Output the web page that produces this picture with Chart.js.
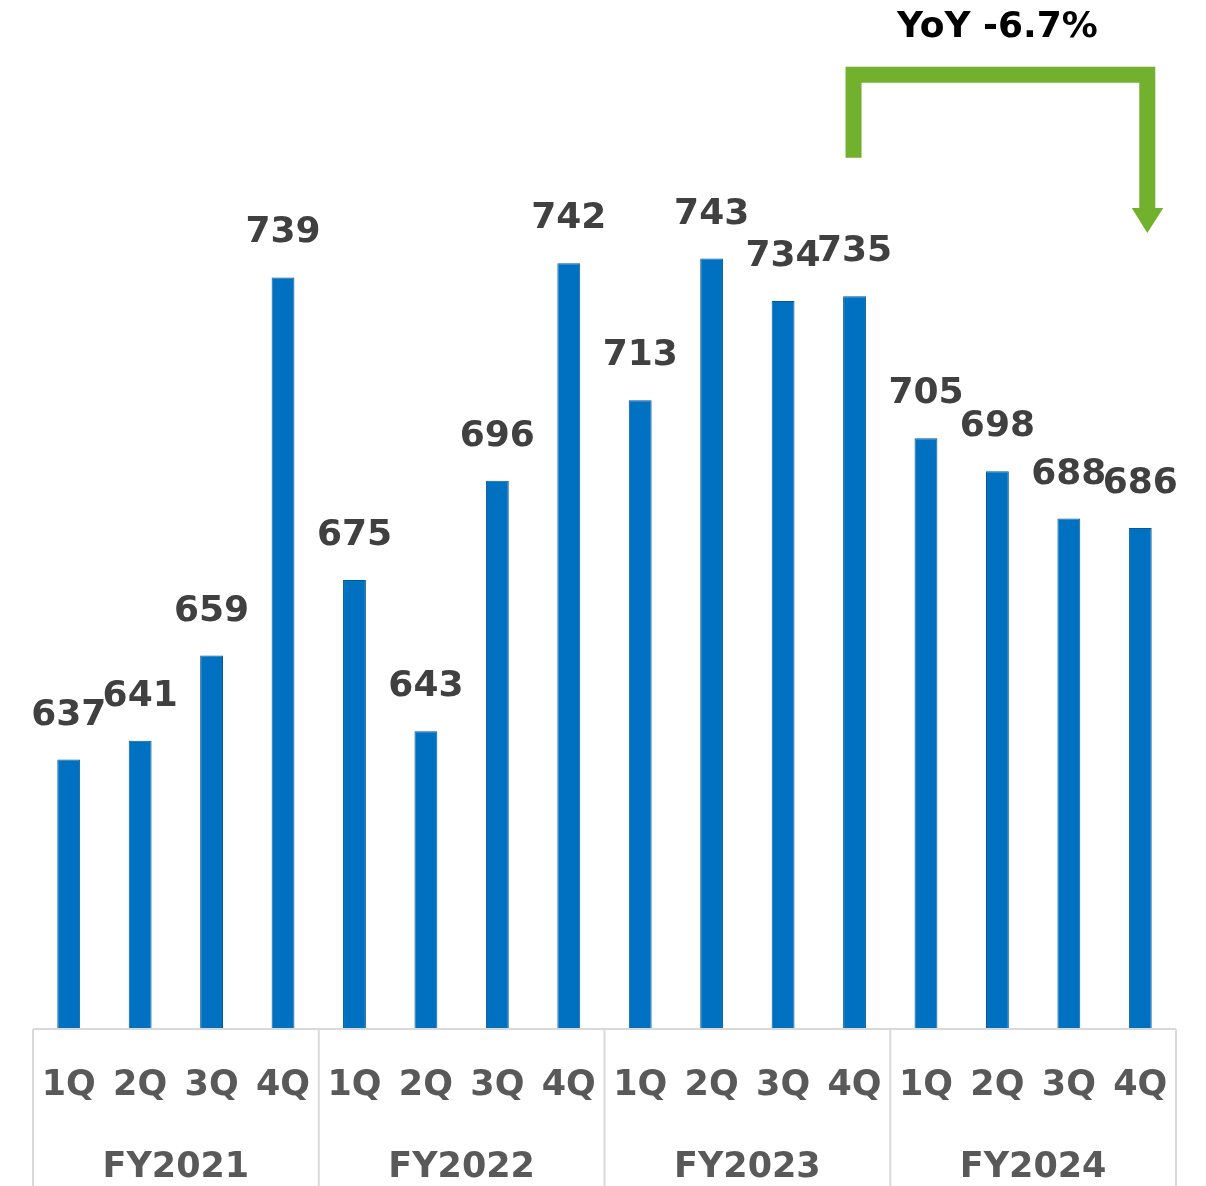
<!DOCTYPE html>
<html>
<head>
<meta charset="utf-8">
<script src="https://cdn.jsdelivr.net/npm/chart.js@4.4.0/dist/chart.umd.min.js"></script>
<style>
  body { margin: 0; background: #fff; }
</style>
</head>
<body>
<canvas id="myChart1" width="1206" height="1186"></canvas>
<script>
const quarters = ['1Q', '2Q', '3Q', '4Q', '1Q', '2Q', '3Q', '4Q', '1Q', '2Q', '3Q', '4Q', '1Q', '2Q', '3Q', '4Q'];
const years = ['FY2021', 'FY2022', 'FY2023', 'FY2024'];
const valores = [637, 641, 659, 739, 675, 643, 696, 742, 713, 743, 734, 735, 705, 698, 688, 686];
const yoyText = 'YoY -6.7%';

const fuente = '"DejaVu Sans", Verdana, sans-serif';
const gris = '#d9d9d9';

// etiquetas, separadores, grupo de años y flecha
const extras = {
  id: 'extras',
  afterDatasetsDraw(chart) {
    const c = chart.ctx;
    const area = chart.chartArea;
    const xs = chart.scales.x;
    const ys = chart.scales.y;
    const barras = chart.getDatasetMeta(0).data;

    // valores sobre las barras
    c.save();
    c.font = 'bold 36px ' + fuente;
    c.fillStyle = '#404040';
    c.textAlign = 'center';
    c.textBaseline = 'alphabetic';
    barras.forEach((b, i) => {
      c.fillText(valores[i], b.x, b.y - 35);
    });
    c.restore();

    // linea base y separadores
    const fondo = chart.height;
    c.save();
    c.strokeStyle = gris;
    c.lineWidth = 2;
    c.beginPath();
    c.moveTo(area.left, area.bottom);
    c.lineTo(area.right, area.bottom);
    const paso = (xs.getPixelForValue(1) - xs.getPixelForValue(0));
    for (let g = 0; g <= years.length; g++) {
      const px = xs.getPixelForValue(g * 4) - paso / 2;
      c.moveTo(px, area.bottom);
      c.lineTo(px, fondo);
    }
    c.stroke();

    // años
    c.font = 'bold 35px ' + fuente;
    c.fillStyle = '#595959';
    c.textAlign = 'center';
    years.forEach((yr, g) => {
      const cx = (xs.getPixelForValue(g * 4) + xs.getPixelForValue(g * 4 + 3)) / 2;
      c.fillText(yr, cx, area.bottom + 148);
    });
    c.restore();

    // flecha YoY
    const xL = barras[11].x - 1;
    const xR = barras[15].x + 7;
    const yBase = ys.getPixelForValue(764.3);
    const yArriba = ys.getPixelForValue(781.9);
    const yCabeza = ys.getPixelForValue(753.7);
    const yPunta = ys.getPixelForValue(748.4);
    c.save();
    c.strokeStyle = '#71b12e';
    c.fillStyle = '#71b12e';
    c.lineWidth = 16;
    c.lineJoin = 'miter';
    c.beginPath();
    c.moveTo(xL, yBase);
    c.lineTo(xL, yArriba);
    c.lineTo(xR, yArriba);
    c.lineTo(xR, yCabeza + 1);
    c.stroke();
    c.beginPath();
    c.moveTo(xR - 15.5, yCabeza);
    c.lineTo(xR + 16, yCabeza);
    c.lineTo(xR, yPunta);
    c.closePath();
    c.fill();

    c.font = 'bold 36px ' + fuente;
    c.fillStyle = '#000000';
    c.textAlign = 'center';
    c.fillText(yoyText, (xL + xR) / 2 - 3, 37);
    c.restore();
  }
};

const ctx = document.getElementById('myChart1');

new Chart(ctx, {
  type: 'bar',
  data: {
    labels: quarters,
    datasets: [{
      label: 'Ventas',
      data: valores,
      backgroundColor: '#0070c0',
      borderColor: '#005a9e',
      borderWidth: 1,
      barPercentage: 0.32,
      categoryPercentage: 1
    }]
  },
  options: {
    responsive: false,
    animation: false,
    layout: { padding: { left: 33, right: 30, top: 0, bottom: 0 } },
    plugins: {
      legend: { display: false },
      tooltip: { enabled: false }
    },
    scales: {
      x: {
        grid: { display: false },
        border: { display: false },
        ticks: {
          color: '#595959',
          font: { family: fuente, size: 35, weight: 'bold' },
          padding: 28,
          maxRotation: 0,
          autoSkip: false
        },
        afterFit: (scale) => { scale.height = 157; }
      },
      y: {
        display: false,
        min: 580,
        max: 797.7
      }
    }
  },
  plugins: [extras]
});
</script>
</body>
</html>
